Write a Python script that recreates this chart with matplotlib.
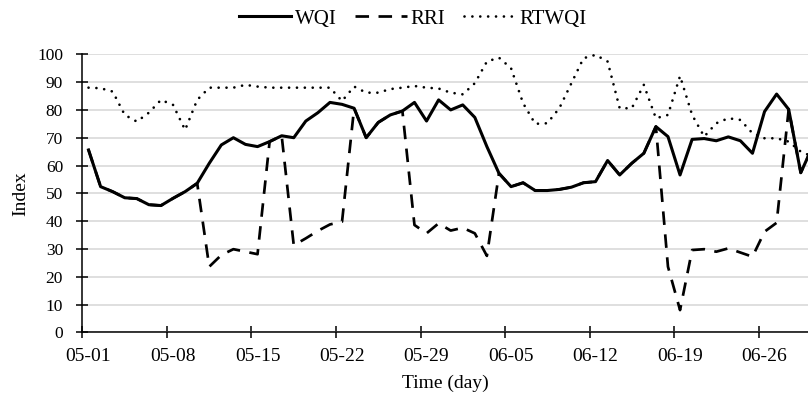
import numpy as np
import matplotlib
matplotlib.use("Agg")
import matplotlib.pyplot as plt
from matplotlib.ticker import FixedLocator, NullFormatter, FixedFormatter

plt.rcParams['font.family'] = ['Liberation Serif', 'DejaVu Serif']

# daily values, 05-01 .. 06-30
wqi = [65.6, 52.4, 50.6, 48.4, 48.1, 45.9, 45.6, 48.2, 50.6, 53.6,
       60.8, 67.4, 70.0, 67.6, 66.8, 68.6, 70.7, 70.0, 76.0, 79.0,
       82.7, 82.0, 80.6, 70.0, 75.5, 78.2, 79.6, 82.7, 76.0, 83.6,
       80.0, 81.8, 77.3, 66.8, 57.2, 52.4, 53.8, 51.0, 51.0, 51.4,
       52.2, 53.8, 54.2, 61.8, 56.6, 60.8, 64.4, 74.0, 70.4, 56.6,
       69.4, 69.7, 68.9, 70.3, 68.9, 64.4, 79.4, 85.7, 80.2, 57.4,
       67.0]
rri = [65.6, 52.4, 50.6, 48.4, 48.1, 45.9, 45.6, 48.2, 50.6, 53.6,
       23.6, 27.8, 29.9, 29.0, 28.1, 68.6, 70.7, 31.3, 33.8, 36.5,
       38.8, 39.8, 80.6, 70.0, 75.5, 78.2, 79.6, 38.6, 35.6, 39.2,
       36.6, 37.6, 35.6, 27.5, 57.2, 52.4, 53.8, 51.0, 51.0, 51.4,
       52.2, 53.8, 54.2, 61.8, 56.6, 60.8, 64.4, 74.0, 23.6, 8.0,
       29.6, 29.9, 29.0, 30.2, 28.7, 27.2, 36.2, 39.4, 80.2, 57.4,
       67.0]
rtwqi = [88.0, 87.8, 86.6, 78.2, 75.8, 79.0, 83.6, 81.8, 72.8, 83.6,
         88.0, 88.0, 88.0, 89.0, 88.4, 88.0, 88.0, 88.0, 88.0, 88.0,
         88.0, 83.2, 88.4, 86.2, 86.2, 87.5, 88.0, 88.6, 88.0, 87.7,
         86.2, 85.6, 89.6, 97.4, 98.8, 95.0, 82.4, 75.0, 75.2, 80.6,
         89.6, 98.6, 99.8, 97.4, 80.6, 80.6, 89.0, 77.0, 78.2, 92.2,
         78.2, 70.4, 75.2, 77.0, 76.4, 71.6, 69.8, 69.8, 68.6, 65.0,
         63.2]
tick_labels = ['05-01', '05-08', '05-15', '05-22', '05-29',
               '06-05', '06-12', '06-19', '06-26']

days = np.arange(len(wqi))

fig = plt.figure(figsize=(8.08, 3.95), dpi=100)
ax = fig.add_axes([0.1021, 0.1587, 0.8979, 0.7038])

ax.plot(days, rri, color='black', lw=1.95, linestyle=(0, (5, 3.5)),
        label='RRI', zorder=2)
ax.plot(days, rtwqi, color='black', lw=1.95, linestyle=(0, (0.01, 2.9)),
        dash_capstyle='round', label='RTWQI', zorder=2)
ax.plot(days, wqi, color='black', lw=2.2, label='WQI', zorder=3)

ax.set_xlim(-0.5, 59.6)
ax.set_ylim(0, 100)
ax.set_yticks(np.arange(0, 101, 10))
ax.yaxis.grid(True, color='#d9d9d9', lw=1.2)
ax.set_axisbelow(True)

# tick marks between categories, labels on categories
ax.xaxis.set_major_locator(FixedLocator(np.arange(-0.5, 60, 7)))
ax.xaxis.set_major_formatter(NullFormatter())
ax.xaxis.set_minor_locator(FixedLocator(np.arange(0, 57, 7)))
ax.xaxis.set_minor_formatter(FixedFormatter(tick_labels))
ax.tick_params(axis='x', which='minor', length=0, labelsize=14, pad=11)
ax.tick_params(axis='both', which='major', direction='inout', length=8,
               width=1.1)
ax.tick_params(axis='y', labelsize=12.5, pad=10)

for s in ['top', 'right']:
    ax.spines[s].set_visible(False)
for s in ['left', 'bottom']:
    ax.spines[s].set_linewidth(1.1)

ax.set_xlabel('Time (day)', fontsize=14, labelpad=7.5)
ax.set_ylabel('Index', fontsize=14)
ax.yaxis.set_label_coords(-0.074, 0.5)

h, l = ax.get_legend_handles_labels()
order = [2, 0, 1]
fig.legend([h[i] for i in order], [l[i] for i in order], loc='center',
           bbox_to_anchor=(0.511, 0.952), ncol=3, frameon=False, fontsize=15,
           handlelength=2.5, handletextpad=0.15, columnspacing=0.9)

fig.savefig('out.png', dpi=100)
